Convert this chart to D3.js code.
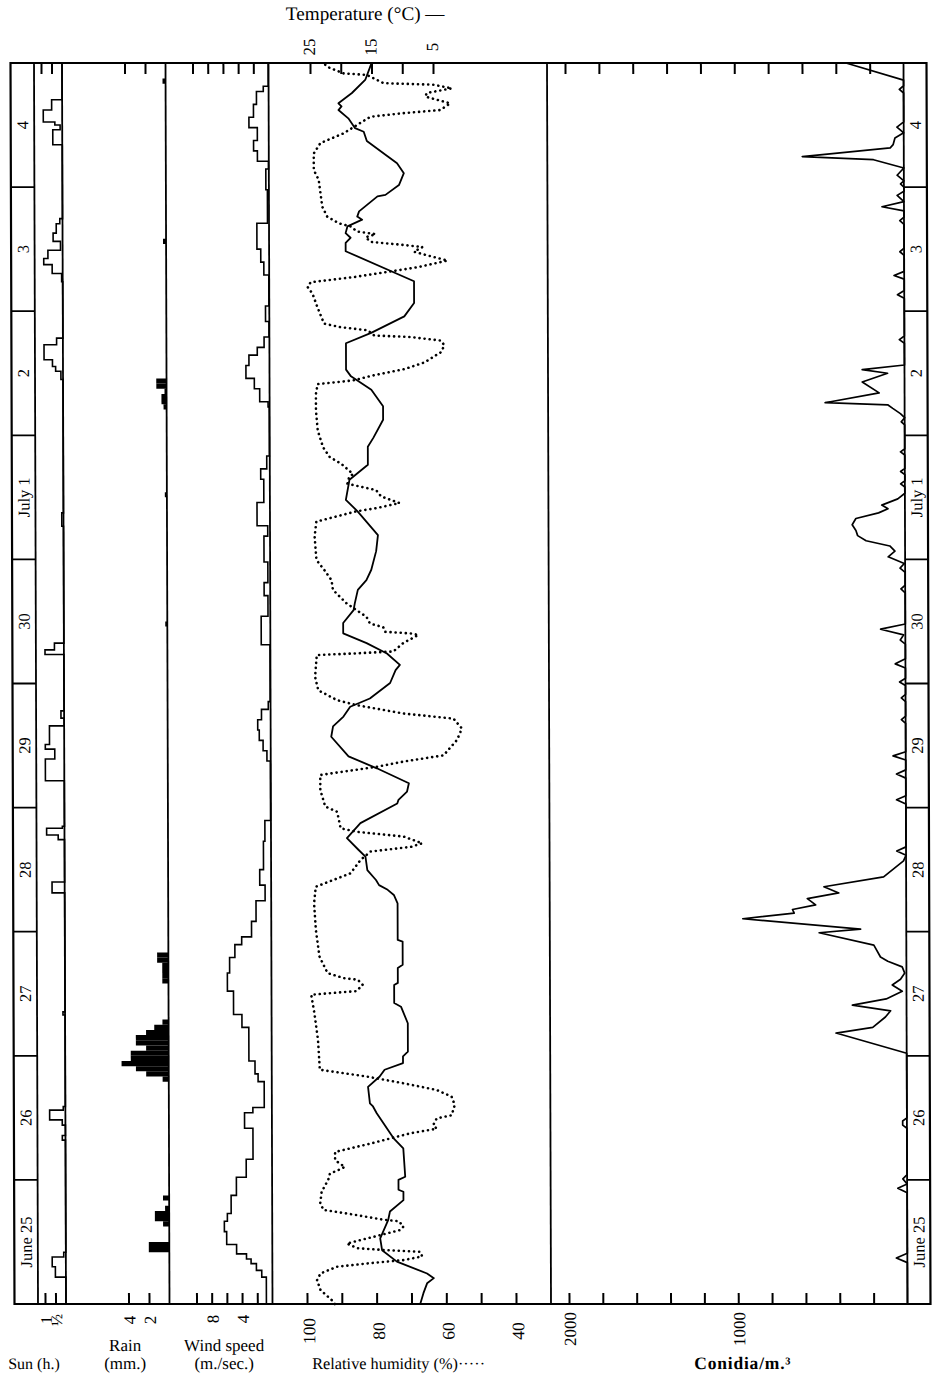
<!DOCTYPE html>
<html><head><meta charset="utf-8">
<script src="https://cdn.jsdelivr.net/npm/d3@7"></script>
<style>
body{margin:0;background:#fff}
text{font-family:"Liberation Serif","DejaVu Serif",serif;fill:#000}
</style></head><body>
<svg id="c" width="934" height="1384"></svg>
<script>
// ---------- data (time t = hours from June 25 00h) ----------
const days = ["June 25","26","27","28","29","30","July 1","2","3","4"];
const sunTicks = [1, 0.5];
const sunTickLabels = ["1","½"];
const rainTicks = [4, 2];
const windTicks = [2,4,6,8,10];
const windTickLabels = [[8,"8"],[4,"4"]];
const rhTicks = [100,90,80,70,60,50,40];
const rhTickLabels = [100,80,60,40];
const tempTicks = [25,20,15,10,5];
const tempTickLabels = [25,15,5];
const conTicks = [200,400,600,800,1000,1200,1400,1600,1800,2000];
const conTickLabels = [2000,1000];

// sunshine (h per hour), step change points [t, value]
const sun = [[0,0],[5.2,0.5],[7.2,0.65],[9.1,0.1],[10,0],[31.7,0.15],[32.6,0],[34.6,0.15],[35.6,0.75],[37.5,0.1],[38.2,0],
[55.9,0.1],[56.5,0],[79.5,0.6],[81.6,0],[89.8,0.3],[90.7,0.85],[92,0.1],[92.4,0],
[101.2,0.9],[105.4,0.45],[107.3,0.9],[108.2,0.7],[111.8,0],[113.3,0.15],[114.7,0],
[125.6,0.9],[126.5,0.45],[127.8,0],[150.4,0.08],[153,0],
[178.8,0.1],[180.4,0.35],[181.3,0.5],[182.6,0.9],[185.5,0.3],[186.8,0],
[197.7,0.05],[199.3,0.5],[201,0.9],[202.2,0.7],[203.8,0.1],[205.5,0.45],[207.1,0.3],[208.9,0.13],[209.9,0],
[224.2,0.45],[227.1,0.1],[228,0.35],[228.6,0.9],[230.9,0.5],[232.9,0],[240,0]];

// rain (mm per hour) [hour, mm]
const rain = [[10,2.0],[11,2.0],[15,0.6],[16,1.4],[17,1.4],[18,0.4],[20,0.6],
[43,0.6],[44,2.2],[45,3.2],[46,4.6],[47,3.7],[48,3.7],[49,2.2],[50,3.2],[51,3.2],[52,2.2],[53,1.4],[54,0.6],
[62,0.6],[63,0.6],[64,0.6],[65,0.6],[66,1.1],[67,1.1],[131,0.2],[156,0.2],
[173,0.3],[174,0.5],[175,0.5],[176,0.2],[177,1.0],[178,1.0],[205,0.3],[236,0.3]];

// wind speed (m/sec) step change points [t, value]
const wind = [[0,0.8],[5.2,1.4],[6.5,2.1],[7.8,2.8],[8.7,3.4],[9.7,4.7],[11.5,6.0],[14,6.3],[16,5.9],[17.5,5.4],[21,4.7],[24.5,3.4],[28,2.5],[34,3.6],[37,2.5],[38,1.0],
[43,1.8],[44.5,2.2],[47,3.0],[53.5,3.9],[56,5.0],[60.5,5.8],[64,5.5],[67,4.8],[69.5,3.9],[71,2.6],[74,2.0],[78,0.8],[81,1.5],[84,1.0],[89.5,0.8],[93.5,0.05],
[105,0.5],[107,1.0],[109,1.5],[111,1.7],[113,1.2],[115,0.3],[116.5,0.05],[127.5,1.2],[133,0.3],[137,0.8],[139.5,0.3],[143.5,0.8],[148.5,0.3],[150.5,1.7],[155,0.8],[159.5,1.2],[161.5,0.4],[164,0.05],
[173.5,0.2],[174.5,1.3],[177,2.0],[179,3.1],[181.5,2.7],[183.5,1.6],[185,0.7],[187,0.05],[190,0.5],[193,0.05],[199,0.7],[201.5,1.1],[204,1.6],[209,0.2],
[215.5,0.4],[219.5,0.05],[221,1.5],[223,2.0],[225,1.5],[227.5,2.6],[229.5,2.0],[232,1.6],[234.5,0.7],[235.5,0.05],[240,0.05]];

// relative humidity (%) [t, value]
const rh = [[0,92],[0.7,92.8],[2.7,96.1],[4.6,97.1],[5.9,96.1],[7.2,91.4],[7.9,81.8],[8.5,72.2],[9.2,66.9],[10.1,67.4],[10.4,77.0],[10.8,85.6],[11.7,88.5],[13.0,80.8],[14.3,73.2],[15.0,72.2],[16.0,73.6],[16.3,78.0],[17.3,86.6],[18.2,95.2],[19.5,96.1],[21.7,95.7],[24.0,93.8],[25.2,93.3],[25.9,90.9],[26.5,89.0],[27.8,91.8],[29.4,91.8],[30.4,85.6],[31.0,81.8],[33.0,70.3],[33.9,62.6],[34.6,63.6],[35.9,62.6],[36.5,58.3],[38.5,57.4],[40.1,58.3],[41.4,62.6],[42.7,72.2],[44.0,82.7],[45.3,96.1],[51.1,96.6],[56.2,97.6],[59.8,98.5],[60.1,93.3],[60.5,85.6],[61.7,83.7],[62.7,85.1],[63.0,89.0],[64.0,93.8],[67.2,96.1],[72.3,97.1],[77.5,97.6],[80.7,97.1],
[83.3,87.1],[85.9,84.2],[87.5,81.3],[88.4,69.8],[89.1,66.5],[90.4,71.8],[91.3,85.1],[92.0,89.9],[95.2,90.9],[96.2,94.3],[99.4,95.7],[102.3,95.7],[103.9,79.4],[104.9,71.8],[106.1,60.3],[109.1,56.4],[111.3,55.0],[113.2,57.4],[114.2,71.8],[115.8,85.1],[116.8,90.9],[118.7,96.2],[121.3,97.1],[125.5,96.6],[125.8,86.1],[126.2,74.6],[127.8,71.8],[129.4,67.4],[129.7,69.8],[130.0,77.0],[130.9,77.5],[131.6,81.3],[132.9,82.3],[135.5,88.0],[138.1,91.9],[140.0,92.3],[141.9,94.3],[143.9,96.6],[148.4,97.1],[151.3,96.6],[153.3,85.1],[153.9,79.4],[154.9,72.7],[156.2,78.0],[157.4,79.4],[158.4,86.1],[158.7,87.6],[160.0,87.1],
[160.5,86.0],[162.5,89.4],[163.8,92.7],[165.7,94.6],[168.9,96.1],[172.8,96.6],[176.0,96.6],[177.9,96.1],[178.6,86.0],[179.5,80.7],[180.8,71.2],[182.1,65.4],[184.1,60.6],[185.4,59.7],[186.3,60.6],[187.0,69.3],[187.3,79.8],[188.3,81.7],[188.9,89.4],[189.6,94.2],[192.8,96.1],[195.4,97.5],[196.7,98.9],[197.6,98.0],[198.6,85.5],[199.6,75.9],[200.5,67.3],[201.8,58.7],[202.8,64.5],[203.5,68.3],[204.4,65.9],[204.8,71.2],[205.4,80.7],[206.3,82.2],[206.9,79.3],[207.4,84.6],[208.4,86.5],[209.0,89.9],[210.3,93.2],[212.2,94.6],[214.8,95.1],[217.4,95.6],[219.3,97.0],[222.5,97.0],[224.5,95.1],[226.4,88.4],[228.0,84.6],[229.6,80.7],[230.3,71.2],[230.9,60.6],[232.2,57.8],[233.5,64.9],[234.2,64.5],[235.1,57.3],[235.8,62.6],[236.1,76.9],[237.7,81.7],[238.0,88.4],[239.3,93.2],[240,94]];

// temperature (°C) [t, value]
const temp = [[0.1,7.7],[2.1,7.2],[4.0,6.6],[5.0,5.5],[5.9,6.6],[8.2,11.5],[10.4,13.9],[12.7,14.2],[16.2,12.9],[17.9,12.6],[20.1,10.4],[21.7,10.4],[22.1,11.2],[24.0,11.2],[24.6,10.1],[30.1,10.4],[32.1,12.0],[36.9,14.7],[38.2,15.3],[38.8,15.8],[42.0,16.1],[44.0,14.2],[45.3,13.4],[46.6,10.4],[47.9,10.4],[48.8,9.6],[54.3,9.6],[57.5,10.7],[58.2,11.8],[61.7,11.8],[62.1,11.2],[65.0,11.2],[65.6,10.4],[70.1,10.4],[70.4,11.2],[77.5,11.2],[79.1,11.8],[80.1,12.8],[81.0,14.2],[82.0,14.7],
[83.9,16.1],[86.5,16.4],[87.8,17.5],[90.1,19.4],[93.0,17.2],[96.8,11.2],[97.5,11.0],[99.1,9.6],[100.7,9.3],[103.6,14.5],[105.9,19.1],[109.7,21.9],[111.7,21.6],[113.6,19.9],[115.5,18.8],[117.1,15.6],[120.1,12.3],[122.6,11.4],[123.6,10.7],[125.8,12.8],[127.8,16.1],[129.7,19.9],[131.7,19.9],[134.2,18.2],[135.5,18.0],[138.1,17.5],[140.0,16.1],[142.0,15.3],[145.6,14.5],[148.7,14.2],[153.3,17.5],[155.5,19.4],[159.4,18.8],
[162.3,15.8],[165.8,15.8],[167.5,14.9],[171.0,13.3],[173.6,13.3],[176.8,15.2],[179.4,18.5],[180.7,19.3],[185.8,19.3],[187.8,15.2],[191.0,9.8],[193.6,8.2],[197.8,8.2],[203.6,19.3],[205.2,19.3],[206.2,18.5],[207.1,19.3],[208.4,19.0],[209.7,16.6],[210.3,17.4],[211.3,17.1],[214.2,14.1],[214.5,12.8],[216.4,10.6],[218.7,9.8],[220.6,10.9],[222.0,12.5],[224.9,15.8],[226.7,16.3],[227.4,17.7],[229.3,18.8],[230.9,20.4],[231.6,19.9],[232.2,20.4],[234.2,18.2],[236.8,16.0],[239.0,15.3],[240,15.0]];

// conidia per m3 [t, value]
const conidia = [[0,0],[8,0],[8.9,65],[9.8,0],[21.5,0],[22.4,55],[23.2,0],[24.2,25],[25,0],[34,0],[34.6,25],[35.4,25],[36,0],
[48.5,0],[52.4,417],[53.5,200],[55.5,125],[56.7,94],[57.8,320],[59,120],[60.5,25],[61.7,84],[62.8,35],[64,10],[65.2,25],[66.3,110],[67.1,153],[69.4,192],[71.8,515],[72.5,270],[74.5,966],[75.6,662],[76.3,672],[77.2,535],[78.4,584],[79.5,398],[80.7,486],[82.6,133],[85.7,15],
[86.8,0],[87.6,55],[88.4,0],[96.7,0],[97.5,55],[98.3,0],[101.7,0],[102.5,55],[103.3,0],[105.2,0],[106,75],[106.8,0],[112.3,0],[113,25],[113.7,0],[116.5,0],[117.2,25],[117.9,0],[119.6,0],[120.3,35],[121,0],
[123,0],[123.8,60],[124.8,0],[127.6,0],[128.4,30],[129.4,10],[130.5,146],[131.5,0],[137.5,0],[138.3,25],[139,0],
[141.5,0],[142.3,30],[143.2,5],[144.5,100],[145.6,60],[146.6,90],[147.6,230],[148.6,280],[149.6,290],[150.7,312],[151.9,290],[153,156],[153.8,100],[154.5,137],[155.7,42],[156.8,0],
[158,0],[158.6,25],[159.2,0],[160.4,0],[161,25],[161.6,0],[164.2,0],[164.8,25],[165.4,0],[170,0],[170.6,20],[171.4,0],
[172.2,25],[173.2,70],[173.9,100],[174.3,470],[176.2,150],[178.3,250],[180,100],[180.7,250],[181.6,0],
[185.8,0],[186.5,30],[187.2,0],[194.5,0],[195.2,40],[196,0],[198.2,0],[198.9,60],[199.7,0],[202.8,0],[203.5,25],[204.2,0],[208.8,0],[209.5,25],[210.2,0],
[211.4,0],[212.2,130],[213.2,0],[214.4,40],[215.2,0],[216,0],[216.6,20],[217.2,0],[218.3,40],[219.7,0],[221.3,179],[221.9,600],[223.6,80],[224.2,63],[225.5,52],[226.5,0],[227.6,40],[228.6,0],
[234.2,0],[234.9,25],[235.6,0],[236.7,0],[240,340]];

// ---------- layout ----------
const svg = d3.select("#c");
const TOP = 63, BOT = 1304;
const X = {left:12.5, dateR:36, sunB:64, rainB:167.5, windB:270.5, rhR:549, conB:905.5, right:928.5};
// the printed figure is slightly sheared (bottom sits ~4px right of top)
const shear = 4/1241, midY = (TOP+BOT)/2;
const root = svg.append("g")
  .attr("transform", `translate(${-shear*midY},0) skewX(${Math.atan(shear)*180/Math.PI})`);

const yT = d3.scaleLinear().domain([0,240]).range([BOT, TOP]);
const xSun = d3.scaleLinear().domain([0,1]).range([X.sunB, 43]);
const xRain = d3.scaleLinear().domain([0,4]).range([X.rainB, 126.5]);
const xWind = d3.scaleLinear().domain([0,10]).range([X.windB, 194.5]);
const xRH = d3.scaleLinear().domain([100,40]).range([305,514]);
const xTemp = d3.scaleLinear().domain([25,5]).range([312,435]);
const xCon = d3.scaleLinear().domain([0,2000]).range([X.conB, 567]);

// ticks via axes
function ticks(scale, vals, where){
  const ax = (where==="bottom" ? d3.axisBottom(scale) : d3.axisTop(scale))
    .tickValues(vals).tickSize(-11).tickFormat("");
  const g = root.append("g").attr("transform",`translate(0,${where==="bottom"?BOT:TOP})`).call(ax);
  g.select(".domain").remove();
  g.selectAll(".tick text").remove();
  g.selectAll(".tick line").attr("stroke","#000").attr("stroke-width",2);
}
ticks(xSun, sunTicks, "bottom"); ticks(xSun, sunTicks, "top");
ticks(xRain, rainTicks, "bottom"); ticks(xRain, rainTicks, "top");
ticks(xWind, windTicks, "bottom"); ticks(xWind, windTicks, "top");
ticks(xRH, rhTicks, "bottom");
ticks(xTemp, tempTicks, "top");
ticks(xCon, conTicks, "bottom"); ticks(xCon, conTicks, "top");

// rain bars
root.append("g").selectAll("rect").data(rain).join("rect")
  .attr("x", d=>xRain(d[1])).attr("width", d=>xRain(0)-xRain(d[1]))
  .attr("y", d=>yT(d[0]+1)).attr("height", d=>yT(d[0])-yT(d[0]+1))
  .attr("fill","#000");

// step lines
const stepLine = xs => d3.line().x(d=>xs(d[1])).y(d=>yT(d[0])).curve(d3.curveStepBefore);
root.append("path").datum(sun).attr("d", stepLine(xSun)).attr("fill","none").attr("stroke","#000").attr("stroke-width",1.6);
root.append("path").datum(wind).attr("d", stepLine(xWind)).attr("fill","none").attr("stroke","#000").attr("stroke-width",1.6);

// RH dotted & temperature solid
root.append("path").datum(rh)
  .attr("d", d3.line().x(d=>xRH(d[1])).y(d=>yT(d[0])).curve(d3.curveLinear))
  .attr("fill","none").attr("stroke","#000").attr("stroke-width",2.6)
  .attr("stroke-linecap","round").attr("stroke-dasharray","0.1,5");
root.append("path").datum(temp)
  .attr("d", d3.line().x(d=>xTemp(d[1])).y(d=>yT(d[0])))
  .attr("fill","none").attr("stroke","#000").attr("stroke-width",1.8).attr("stroke-linejoin","round");

// conidia
root.append("path").datum(conidia)
  .attr("d", d3.line().x(d=>xCon(d[1])).y(d=>yT(d[0])))
  .attr("fill","none").attr("stroke","#000").attr("stroke-width",1.7).attr("stroke-linejoin","round");

// frame and dividers
root.append("rect").attr("x",X.left).attr("y",TOP).attr("width",X.right-X.left).attr("height",BOT-TOP)
  .attr("fill","none").attr("stroke","#000").attr("stroke-width",2.2);
[X.dateR, X.sunB, X.rainB, X.windB, X.rhR, X.conB].forEach(x=>{
  root.append("line").attr("x1",x).attr("x2",x).attr("y1",TOP).attr("y2",BOT).attr("stroke","#000").attr("stroke-width",1.8);
});

// date strips
const bounds = d3.range(1,10).map(k=>24*k);
[[X.left,X.dateR],[X.conB,X.right]].forEach(([a,b])=>{
  root.append("g").selectAll("line").data(bounds).join("line")
    .attr("x1",a).attr("x2",b).attr("y1",d=>yT(d)).attr("y2",d=>yT(d))
    .attr("stroke","#000").attr("stroke-width",1.8);
  root.append("g").selectAll("text").data(days).join("text")
    .attr("transform",(d,i)=>`translate(${(a+b)/2},${yT(24*i+12)}) rotate(-90)`)
    .attr("text-anchor","middle").attr("dy","0.35em").attr("font-size",16.5).text(d=>d);
});

// rotated tick labels
function rlab(x, y, s, size){
  root.append("text").attr("transform",`translate(${x},${y}) rotate(-90)`)
    .attr("text-anchor","middle").attr("dy","0.35em").attr("font-size",size).text(s);
}
sunTicks.forEach((v,i)=>rlab(xSun(v)+1, 1320, sunTickLabels[i], 16));
rainTicks.forEach(v=>rlab(xRain(v)+1, 1320, String(v), 17));
windTickLabels.forEach(([v,l])=>rlab(xWind(v)+1, 1319, l, 17));
rhTickLabels.forEach(v=>rlab(xRH(v)+2, 1331, String(v), 17.5));
conTickLabels.forEach(v=>rlab(xCon(v)+1, 1329, String(v), 17));
tempTickLabels.forEach(v=>rlab(xTemp(v)-1, 47, String(v), 17));

// titles
const T = (x,y,s,anchor,size,weight,ls)=>root.append("text").attr("x",x).attr("y",y)
  .attr("text-anchor",anchor||"start").attr("font-size",size||16).attr("font-weight",weight||"normal")
  .attr("letter-spacing",ls||0).text(s);
T(288, 20, "Temperature (°C) —", "start", 19.2);
T(6, 1369, "Sun (h.)");
T(123, 1351, "Rain", "middle", 17);
T(123, 1369, "(mm.)", "middle", 17);
T(222, 1351, "Wind speed", "middle", 17);
T(222, 1369, "(m./sec.)", "middle", 17);
T(310, 1369, "Relative humidity (%)·····", "start", 16.3);
T(692, 1369, "Conidia/m.³", "start", 17.5, "bold", 0.8);
</script>
</body></html>
